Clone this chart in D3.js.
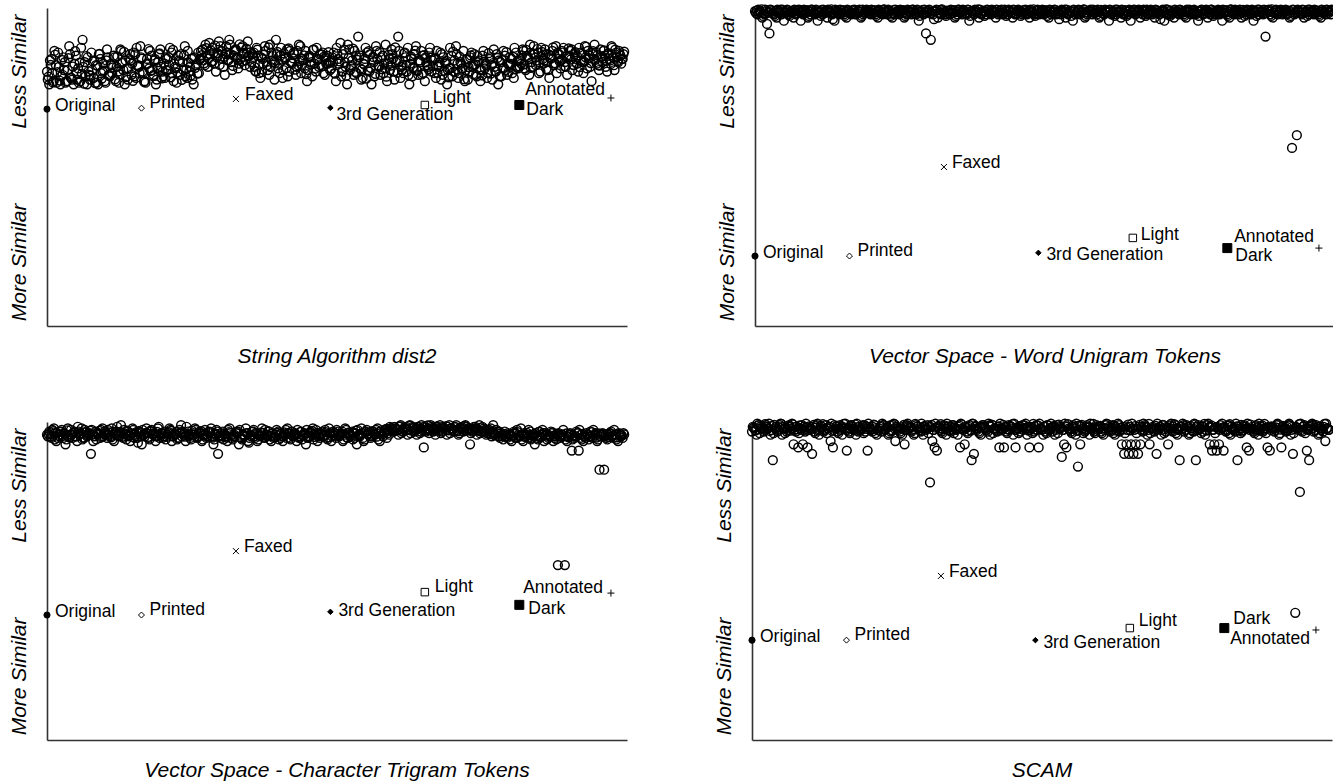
<!DOCTYPE html>
<html>
<head>
<meta charset="utf-8">
<script src="https://cdn.jsdelivr.net/npm/d3@7"></script>
<style>
body { margin: 0; background: #fff; }
text { font-family: Arial, "Liberation Sans", sans-serif; fill: #000; }
</style>
</head>
<body>
<script>
// Document variants and where they sit along the x axis
var variants = ["Original", "Printed", "Faxed", "3rd Generation", "Light", "Dark", "Annotated"];
var variant_x = [0, 100, 200, 300, 400, 500, 597];

var titles = ["String Algorithm dist2", "Vector Space - Word Unigram Tokens",
              "Vector Space - Character Trigram Tokens", "SCAM"];

// Dissimilarity of each variant to the original (0 = more similar, 100 = less similar)
var dist2_variants   = [68.2, 68.5, 71.4, 68.6, 69.5, 69.5, 71.7];
var unigram_variants = [22.0, 22.0, 50.0, 23.0, 27.7, 24.5, 24.5];
var trigram_variants = [39.3, 39.3, 59.4, 40.3, 46.5, 42.5, 46.2];
var scam_variants    = [31.4, 31.4, 51.6, 31.4, 35.2, 35.2, 34.6];

// Dissimilarity of the original to the other documents (three runs, interleaved)
var dist2_docs_a = [
    80,76,84,77,82,86,76,79,83,77,88,78,76,85,81,77,90,83,76,79,86,78,82,76,84,80,77,87,79,
    82,85,77,80,87,83,76,81,84,79,86,78,82,88,80,77,84,81,85,79,76,83,87,80,78,84,82,86,77,81,85,79,83,88,78,80,84,76,82,86,
    84,87,82,85,89,83,86,80,85,88,84,79,86,90,83,85,87,81,84,88,82,86,85,
    83,86,80,85,78,84,88,82,79,86,83,90,81,85,78,84,87,80,83,86,79,82,88,84,81,77,85,83,87,80,84,82,86,79,85,83,
    81,86,77,84,89,80,83,76,87,82,79,85,91,81,78,84,86,80,76,83,88,82,79,85,81,77,84,87,80,83,91,78,82,86,80,76,84,81,88,79,83,85,77,82,86,
    80,84,78,82,86,79,83,76,81,85,80,88,78,83,81,77,84,80,86,82,79,83,77,85,81,78,84,82,87,80,76,83,81,85,79,82,84,78,86,81,
    84,87,81,85,79,83,88,82,86,80,84,87,83,78,85,82,88,84,81,86,83,79,85,87,82,84,80,86,83,88,81,85,77,84,86,82,87,83,85,80,84,88,82,86,83,85,84
];
var dist2_docs_b = [
    77.5,83.5,79.5,86.5,76.5,81.5,78.5,84.5,76.5,80.5,85.5,77.5,82.5,79.5,76.5,87.5,81.5,78.5,84.5,77.5,80.5,83.5,76.5,85.5,79.5,82.5,76.5,84.5,78.5,
    79.5,84.5,81.5,76.5,86.5,80.5,83.5,77.5,85.5,82.5,78.5,87.5,81.5,84.5,79.5,76.5,82.5,86.5,80.5,83.5,77.5,85.5,81.5,78.5,84.5,80.5,87.5,79.5,82.5,76.5,83.5,85.5,80.5,78.5,86.5,81.5,77.5,84.5,82.5,79.5,
    86.5,83.5,88.5,81.5,85.5,87.5,82.5,84.5,89.5,86.5,81.5,85.5,83.5,88.5,80.5,86.5,84.5,82.5,87.5,85.5,83.5,89.5,81.5,
    85.5,81.5,87.5,79.5,84.5,82.5,86.5,80.5,88.5,83.5,77.5,85.5,82.5,87.5,80.5,84.5,78.5,86.5,82.5,85.5,81.5,88.5,79.5,83.5,86.5,80.5,84.5,78.5,82.5,87.5,81.5,85.5,79.5,84.5,82.5,80.5,
    84.5,79.5,87.5,82.5,78.5,85.5,81.5,88.5,80.5,83.5,86.5,79.5,84.5,77.5,82.5,87.5,80.5,85.5,83.5,78.5,86.5,81.5,84.5,79.5,88.5,82.5,80.5,85.5,77.5,83.5,86.5,81.5,79.5,84.5,87.5,82.5,78.5,85.5,80.5,83.5,86.5,79.5,84.5,81.5,87.5,
    83.5,79.5,86.5,81.5,77.5,84.5,82.5,80.5,87.5,78.5,83.5,85.5,79.5,82.5,86.5,80.5,77.5,84.5,81.5,85.5,78.5,83.5,80.5,86.5,82.5,79.5,84.5,77.5,81.5,85.5,83.5,78.5,86.5,80.5,82.5,84.5,79.5,87.5,81.5,83.5,
    82.5,86.5,80.5,84.5,88.5,81.5,85.5,83.5,79.5,87.5,82.5,85.5,80.5,84.5,86.5,82.5,79.5,85.5,83.5,87.5,81.5,84.5,86.5,80.5,85.5,82.5,87.5,83.5,79.5,84.5,86.5,81.5,85.5,88.5,82.5,80.5,84.5,86.5,81.5,85.5,83.5,87.5,80.5,84.5,86.5,82.5,85.5
];
var dist2_docs_c = [
    78.4,82.1,76.6,85.3,79.8,77.2,83.7,80.5,76.9,84.2,78.1,81.6,86.4,77.5,82.8,79.3,76.2,84.9,80.1,78.7,83.2,76.4,81.9,85.6,77.8,80.3,83.5,78.9,82.4,
    81.3,77.6,84.8,79.1,82.7,86.2,78.3,80.9,83.6,77.1,85.4,81.8,79.5,84.1,76.8,82.3,87.1,80.2,78.6,83.9,81.1,85.7,77.9,82.6,80.4,84.5,78.2,86.8,81.5,79.7,83.1,77.4,85.1,80.7,82.9,78.8,84.3,81.2,79.4,83.8,
    85.2,82.6,87.4,84.1,86.7,83.3,88.2,85.8,82.1,86.4,84.7,87.9,83.6,85.5,81.8,86.9,84.3,88.6,83.1,85.9,87.2,84.8,86.1,
    84.6,80.2,86.9,82.4,79.8,85.3,83.1,87.6,81.4,84.9,82.7,86.2,79.5,83.8,85.7,81.1,87.3,82.9,84.2,80.6,86.5,83.4,81.9,85.1,79.2,84.4,82.2,86.8,80.9,83.6,85.4,81.7,84.7,82.5,86.1,83.0,
    82.8,79.4,85.6,83.2,80.1,86.9,78.7,84.3,81.5,87.2,79.9,83.7,85.1,80.6,82.3,77.8,86.4,81.2,84.6,79.3,83.9,86.1,80.8,82.6,78.4,85.3,81.9,84.1,87.6,79.6,83.3,80.4,85.8,82.1,78.9,84.8,81.4,86.6,80.2,83.5,79.1,85.2,82.9,80.7,84.4,
    81.7,84.2,79.6,82.9,85.5,80.3,83.4,78.2,81.1,86.3,79.8,82.5,84.7,80.9,77.6,83.8,81.4,85.1,79.2,82.2,84.9,80.6,78.8,83.1,81.9,85.8,79.4,82.7,80.1,84.3,78.5,83.6,81.2,86.1,79.9,82.4,84.6,80.8,83.3,81.6,
    85.1,82.3,86.8,83.9,81.2,85.7,84.4,87.1,82.9,86.2,83.5,80.8,85.4,84.1,87.6,82.6,85.9,83.2,86.5,81.7,84.8,87.3,83.8,82.1,86.1,84.6,81.4,85.6,83.1,87.8,84.2,82.7,86.4,83.7,85.2,81.9,84.9,86.7,83.4,85.8,82.4,84.5,86.9,83.3,85.5,84.0,86.3
];

var unigram_docs_a = [
    99,98,99,97,98,95,92,99,98,97,99,98,96,99,98,99,97,98,99,96,
    98,99,97,98,99,98,96,99,98,99,97,99,98,96,99,98,99,98,97,99,
    98,99,98,99,97,98,99,99,98,99,98,97,99,98,99,98,99,97,98,99,
    98,99,97,98,99,98,99,98,96,99,98,92,99,90,98,99,97,98,99,98,
    99,98,99,97,98,99,98,99,98,96,99,98,99,97,98,99,98,99,98,99,
    97,98,99,98,99,98,99,97,98,99,99,98,99,98,97,99,98,99,98,99,
    98,99,97,98,99,98,99,98,99,97,98,99,96,98,99,98,99,97,98,99,
    98,99,98,97,99,98,99,96,98,99,98,99,97,98,99,98,96,99,98,99,
    97,98,99,98,99,98,97,99,98,99,96,98,99,98,97,99,98,99,98,97,
    99,98,99,98,96,99,98,99,97,98,99,98,99,98,96,99,98,97,99,98,
    99,98,97,99,98,99,98,96,99,98,99,98,91,99,98,97,99,98,99,98,
    99,98,97,56,98,60,99,98,97,99,98,99,98,99,98,97,99,98,99,98
];
var unigram_docs_b = [
    98.5,99.5,98.5,97.5,99.5,98.5,99.5,98.5,97.5,99.5,98.5,99.5,98.5,99.5,97.5,98.5,99.5,98.5,99.5,98.5,
    99.5,98.5,97.5,99.5,98.5,99.5,98.5,97.5,99.5,98.5,99.5,98.5,96.5,99.5,98.5,99.5,98.5,97.5,99.5,98.5,
    98.5,99.5,98.5,99.5,97.5,98.5,99.5,98.5,99.5,98.5,97.5,99.5,98.5,99.5,98.5,99.5,97.5,98.5,99.5,98.5,
    99.5,98.5,97.5,99.5,98.5,99.5,98.5,99.5,97.5,98.5,99.5,98.5,99.5,98.5,96.5,99.5,98.5,99.5,98.5,97.5,
    98.5,99.5,98.5,97.5,99.5,98.5,99.5,98.5,99.5,97.5,98.5,99.5,98.5,99.5,98.5,97.5,99.5,98.5,99.5,98.5,
    99.5,98.5,99.5,98.5,97.5,99.5,98.5,99.5,98.5,99.5,97.5,98.5,99.5,98.5,99.5,98.5,97.5,99.5,98.5,99.5,
    98.5,97.5,99.5,98.5,99.5,98.5,96.5,99.5,98.5,99.5,98.5,97.5,99.5,98.5,99.5,98.5,99.5,97.5,98.5,99.5,
    99.5,98.5,99.5,97.5,98.5,99.5,98.5,99.5,98.5,97.5,99.5,98.5,99.5,98.5,97.5,99.5,98.5,99.5,98.5,99.5,
    98.5,99.5,97.5,98.5,99.5,98.5,99.5,98.5,96.5,99.5,98.5,99.5,97.5,98.5,99.5,98.5,99.5,98.5,97.5,99.5,
    99.5,98.5,99.5,98.5,97.5,99.5,98.5,99.5,98.5,99.5,97.5,98.5,99.5,98.5,99.5,98.5,97.5,99.5,98.5,99.5,
    98.5,99.5,98.5,97.5,99.5,98.5,99.5,98.5,97.5,99.5,98.5,99.5,98.5,99.5,97.5,98.5,99.5,98.5,99.5,98.5,
    99.5,98.5,97.5,99.5,98.5,99.5,98.5,99.5,98.5,97.5,99.5,98.5,99.5,98.5,97.5,99.5,98.5,99.5,98.5,99.5
];
var unigram_docs_c = [
    99.2,98.7,99.6,98.3,99.0,98.8,99.4,98.1,99.1,98.6,99.5,98.9,98.4,99.3,98.7,99.0,98.2,99.4,98.8,99.1,
    98.6,99.3,98.9,99.5,98.2,99.0,98.7,99.4,98.5,99.1,98.8,99.6,98.3,99.2,98.9,98.4,99.3,98.7,99.0,98.5,
    99.4,98.1,99.0,98.8,99.5,98.6,99.2,98.9,98.3,99.3,98.7,99.1,98.4,99.6,98.8,99.0,98.2,99.4,98.6,99.1,
    98.9,99.3,98.5,99.0,98.7,99.5,98.2,99.2,98.8,99.4,98.6,99.1,98.3,99.0,98.9,99.3,98.5,99.6,98.7,99.2,
    99.0,98.4,99.3,98.8,99.5,98.6,99.1,98.2,99.4,98.9,99.0,98.7,99.6,98.3,99.2,98.8,99.4,98.5,99.1,98.9,
    98.7,99.2,98.4,99.5,98.9,99.0,98.6,99.3,98.1,99.1,98.8,99.4,98.5,99.0,98.7,99.6,98.3,99.2,98.9,99.1,
    99.3,98.6,99.0,98.8,99.4,98.2,99.1,98.9,99.5,98.5,99.2,98.7,99.0,98.4,99.3,98.8,99.6,98.6,99.1,98.9,
    98.5,99.1,98.8,99.4,98.3,99.0,98.9,99.2,98.6,99.5,98.7,99.0,98.2,99.3,98.8,99.1,98.5,99.4,98.9,99.0,
    99.2,98.7,99.5,98.4,99.0,98.8,99.3,98.6,99.1,98.9,99.6,98.3,99.2,98.7,99.0,98.5,99.4,98.8,99.1,98.6,
    98.8,99.3,98.5,99.0,98.9,99.4,98.2,99.1,98.7,99.5,98.6,99.2,98.9,99.0,98.4,99.3,98.8,99.6,98.5,99.1,
    99.0,98.6,99.4,98.8,99.2,98.3,99.1,98.9,99.5,98.7,99.0,98.4,99.3,98.8,99.6,98.5,99.2,98.9,99.0,98.7,
    98.9,99.2,98.6,99.4,98.8,99.0,98.5,99.3,98.7,99.5,98.9,99.1,98.4,99.2,98.8,99.0,98.6,99.4,98.9,99.1
];

var trigram_docs_a = [
    96,97,95,98,94,96,97,95,93,98,96,95,97,94,96,98,95,97,96,90,94,97,96,95,98,
    97,95,96,98,94,97,96,99,95,96,97,94,98,96,95,97,93,96,98,95,97,96,94,98,96,
    95,97,96,98,94,96,97,95,99,96,94,97,95,96,98,95,97,94,96,95,97,98,93,96,90,
    95,97,96,94,98,95,96,97,93,95,96,98,94,96,97,95,94,96,98,95,96,97,94,95,96,
    97,95,94,96,98,95,97,96,94,95,97,96,93,95,97,98,96,94,95,97,96,95,98,94,96,
    95,97,96,94,98,95,96,97,95,93,96,98,94,97,96,95,97,96,98,94,96,97,95,96,98,
    97,98,96,99,97,98,96,99,98,97,96,98,99,92,97,98,99,97,96,98,99,97,98,96,99,
    98,97,99,96,98,97,99,98,93,97,98,96,99,97,98,96,97,98,99,96,97,95,96,97,95,
    96,94,97,95,96,98,94,96,95,97,96,93,95,97,96,94,96,95,97,94,96,55,95,96,55,
    94,96,91,95,97,91,96,94,95,96,97,95,96,94,85,96,85,95,96,97,95,96,94,96,95
];
var trigram_docs_b = [
    95.5,96.5,97.5,94.5,96.5,95.5,97.5,96.5,94.5,95.5,97.5,96.5,95.5,98.5,96.5,94.5,97.5,95.5,96.5,97.5,95.5,94.5,96.5,97.5,95.5,
    96.5,97.5,95.5,94.5,96.5,98.5,95.5,96.5,97.5,94.5,95.5,96.5,97.5,95.5,93.5,96.5,97.5,95.5,96.5,94.5,97.5,96.5,95.5,98.5,96.5,
    95.5,94.5,96.5,97.5,95.5,96.5,94.5,97.5,95.5,96.5,98.5,95.5,94.5,96.5,97.5,95.5,96.5,94.5,97.5,95.5,96.5,95.5,94.5,97.5,95.5,
    96.5,94.5,95.5,97.5,96.5,94.5,95.5,96.5,97.5,94.5,95.5,96.5,93.5,95.5,97.5,96.5,94.5,95.5,96.5,97.5,95.5,94.5,96.5,95.5,97.5,
    94.5,96.5,95.5,97.5,96.5,94.5,95.5,96.5,97.5,95.5,94.5,96.5,97.5,95.5,96.5,94.5,97.5,95.5,96.5,95.5,97.5,94.5,96.5,95.5,96.5,
    97.5,95.5,96.5,94.5,97.5,96.5,95.5,94.5,96.5,97.5,95.5,96.5,94.5,97.5,96.5,95.5,96.5,97.5,94.5,96.5,95.5,97.5,96.5,98.5,97.5,
    98.5,97.5,98.5,96.5,97.5,98.5,97.5,96.5,98.5,97.5,98.5,96.5,97.5,98.5,97.5,96.5,98.5,97.5,98.5,97.5,96.5,98.5,97.5,98.5,96.5,
    97.5,98.5,97.5,96.5,98.5,97.5,98.5,97.5,96.5,97.5,98.5,97.5,96.5,98.5,97.5,96.5,97.5,95.5,96.5,97.5,95.5,96.5,94.5,95.5,96.5,
    94.5,95.5,96.5,97.5,95.5,94.5,96.5,95.5,97.5,94.5,95.5,96.5,94.5,95.5,97.5,96.5,94.5,95.5,96.5,95.5,94.5,96.5,95.5,97.5,94.5,
    95.5,96.5,94.5,95.5,96.5,97.5,94.5,95.5,96.5,94.5,95.5,97.5,96.5,94.5,95.5,96.5,95.5,94.5,96.5,95.5,97.5,94.5,96.5,95.5,96.5
];
var trigram_docs_c = [
    96.2,95.4,97.1,96.6,95.0,96.9,95.7,96.3,97.4,95.2,96.0,96.8,95.5,97.0,96.4,95.1,96.7,95.8,97.3,96.1,95.6,96.5,97.2,95.3,96.3,
    95.9,96.7,95.2,97.0,96.1,95.6,96.9,95.4,96.4,97.3,95.8,96.2,95.1,96.8,97.1,95.5,96.0,96.6,95.3,97.2,96.3,95.7,96.9,95.0,96.5,
    96.4,95.3,96.8,97.2,95.6,96.1,95.0,96.7,97.0,95.4,96.3,95.9,97.3,96.0,95.2,96.6,97.1,95.7,96.2,95.5,96.9,95.1,96.4,97.0,95.8,
    95.6,96.3,95.1,96.8,95.9,95.4,96.6,97.0,95.2,96.1,95.7,96.5,95.0,96.9,95.5,96.2,95.8,96.7,95.3,96.0,97.1,95.6,96.4,95.2,96.6,
    96.1,95.5,96.7,95.0,96.3,97.0,95.8,96.0,95.4,96.9,95.7,96.2,95.1,96.6,97.2,95.3,96.5,95.9,96.1,95.6,96.8,95.2,96.4,97.0,95.7,
    96.3,95.6,97.0,96.0,95.2,96.7,95.8,96.4,97.3,95.5,96.1,95.0,96.8,96.3,95.7,97.1,96.2,95.4,96.9,97.4,96.6,97.8,97.2,98.1,97.5,
    98.0,97.4,98.6,97.1,98.3,97.7,98.8,97.3,98.2,97.9,98.5,97.0,98.4,97.6,98.9,97.5,98.1,97.8,98.6,97.2,98.3,97.9,98.7,97.4,98.0,
    97.6,98.4,97.1,98.2,97.8,98.7,97.3,98.0,97.5,98.5,97.9,97.2,98.1,97.0,96.7,97.4,96.2,96.9,95.8,96.5,97.0,95.6,96.3,95.4,96.1,
    95.7,96.4,95.1,96.8,95.5,96.0,95.3,96.6,95.9,95.0,96.2,95.6,96.9,95.2,96.5,95.8,96.1,95.4,96.7,95.0,96.3,95.7,96.0,95.5,96.4,
    95.2,96.1,95.8,95.4,96.6,95.0,96.3,95.6,96.0,95.3,96.8,95.7,95.1,96.4,95.5,96.2,95.9,95.3,96.5,95.6,96.0,95.2,96.3,95.8,96.1
];

var scam_docs_a = [
    97,98,96,99,98,97,99,98,96,88,98,97,99,96,98,97,99,98,93,97,92,98,93,97,92,
    98,90,97,99,96,98,97,99,98,94,92,98,97,99,96,98,91,97,99,98,96,97,98,99,97,
    91,98,97,99,96,98,97,99,98,96,97,99,94,98,97,96,93,99,98,97,96,99,98,97,96,
    98,99,81,94,92,91,98,97,99,96,98,97,99,98,96,92,98,93,97,99,88,90,98,97,96,
    99,98,97,96,99,98,97,92,98,92,97,99,98,96,92,98,97,99,98,96,92,98,97,99,92,
    98,96,97,99,98,97,96,99,98,89,93,92,98,97,99,96,86,93,98,97,99,96,98,97,99,
    98,97,96,99,98,97,99,96,98,97,93,90,93,90,93,90,93,90,93,97,99,96,93,98,97,
    90,98,96,99,97,93,98,97,99,96,88,98,97,99,96,98,97,88,99,98,97,96,99,93,91,
    93,91,93,98,91,97,99,96,98,97,88,98,97,99,92,91,98,97,99,96,98,97,98,92,91,
    98,97,99,96,92,98,97,99,96,90,40,98,78,97,99,91,88,98,97,99,96,98,97,94,98
];
var scam_docs_b = [
    98.5,97.5,99.5,96.5,98.5,97.5,98.5,99.5,97.5,96.5,98.5,97.5,99.5,98.5,96.5,97.5,98.5,99.5,97.5,98.5,96.5,97.5,98.5,99.5,97.5,
    97.5,98.5,96.5,99.5,97.5,98.5,97.5,96.5,98.5,99.5,97.5,98.5,96.5,97.5,98.5,99.5,97.5,96.5,98.5,97.5,99.5,98.5,97.5,96.5,98.5,
    99.5,97.5,98.5,96.5,97.5,98.5,99.5,97.5,98.5,96.5,97.5,99.5,98.5,97.5,96.5,98.5,97.5,99.5,98.5,97.5,96.5,98.5,97.5,99.5,98.5,
    97.5,96.5,98.5,97.5,99.5,98.5,97.5,96.5,98.5,99.5,97.5,98.5,96.5,97.5,98.5,99.5,97.5,98.5,96.5,97.5,99.5,98.5,97.5,96.5,98.5,
    98.5,97.5,99.5,98.5,96.5,97.5,98.5,99.5,97.5,98.5,96.5,97.5,98.5,99.5,97.5,96.5,98.5,97.5,99.5,98.5,97.5,96.5,98.5,97.5,99.5,
    97.5,98.5,96.5,97.5,99.5,98.5,97.5,96.5,98.5,97.5,99.5,98.5,97.5,96.5,98.5,99.5,97.5,98.5,96.5,97.5,98.5,99.5,97.5,96.5,98.5,
    98.5,96.5,97.5,99.5,98.5,97.5,96.5,98.5,99.5,97.5,98.5,96.5,97.5,98.5,99.5,97.5,96.5,98.5,97.5,99.5,98.5,97.5,96.5,98.5,97.5,
    99.5,98.5,97.5,96.5,98.5,97.5,99.5,98.5,96.5,97.5,98.5,99.5,97.5,98.5,96.5,97.5,99.5,98.5,97.5,96.5,98.5,97.5,99.5,98.5,97.5,
    96.5,98.5,97.5,99.5,98.5,97.5,96.5,98.5,97.5,99.5,98.5,96.5,97.5,98.5,99.5,97.5,98.5,96.5,97.5,99.5,98.5,97.5,96.5,98.5,97.5,
    98.5,97.5,99.5,96.5,98.5,97.5,98.5,99.5,97.5,96.5,98.5,97.5,99.5,98.5,96.5,97.5,98.5,99.5,97.5,98.5,96.5,97.5,98.5,99.5,97.5
];
var scam_docs_c = [
    98.2,97.4,99.0,98.6,97.8,99.3,98.0,97.2,98.8,99.1,97.6,98.4,99.4,97.9,98.1,98.7,97.3,99.2,98.5,97.7,98.9,99.0,97.5,98.3,98.6,
    97.8,99.1,98.2,97.4,98.8,99.3,97.6,98.0,98.5,97.2,99.0,98.7,97.9,98.3,99.4,97.5,98.1,98.9,97.7,99.2,98.4,97.3,98.6,99.0,97.8,
    98.5,97.7,99.2,98.1,97.4,98.8,99.0,97.6,98.3,98.9,97.2,99.3,98.4,97.9,98.0,99.1,97.5,98.7,98.2,97.8,99.4,98.6,97.3,98.1,98.8,
    97.9,98.4,99.1,97.5,98.2,98.7,99.3,97.7,98.0,98.6,97.4,99.0,98.3,97.8,98.9,99.2,97.6,98.1,98.5,97.3,99.4,98.8,97.9,98.2,99.0,
    98.3,97.6,98.9,99.2,97.8,98.0,98.6,97.4,99.1,98.4,97.7,98.8,99.3,97.5,98.2,98.7,97.9,99.0,98.1,97.3,98.5,99.4,97.6,98.9,98.0,
    97.7,98.6,99.0,97.4,98.3,98.8,97.9,99.2,98.1,97.5,98.7,99.3,97.8,98.4,98.0,97.2,98.9,99.1,97.6,98.5,98.2,97.8,99.4,98.3,97.5,
    98.8,97.9,98.1,99.3,97.6,98.4,98.9,97.3,99.0,98.2,97.7,98.6,99.2,97.4,98.0,98.7,97.8,99.1,98.5,97.5,98.3,99.4,97.9,98.1,98.8,
    97.6,98.5,99.1,97.8,98.2,98.9,97.4,99.3,98.0,97.7,98.6,99.0,97.5,98.4,98.8,97.2,99.2,98.1,97.9,98.7,99.4,97.3,98.3,98.9,97.6,
    98.4,97.8,99.0,98.2,97.5,98.8,99.3,97.7,98.1,98.6,97.4,99.1,98.5,97.9,98.0,99.2,97.6,98.7,98.3,97.3,98.9,99.4,97.8,98.2,98.6,
    97.9,98.3,99.2,97.6,98.8,98.1,97.4,99.0,98.5,97.8,98.2,99.3,97.5,98.7,98.0,97.7,98.9,99.1,97.3,98.4,98.6,97.9,99.4,98.1,97.6
];

// Merge the runs document by document
function interleave() {
    var runs = Array.prototype.slice.call(arguments),
        n = d3.max(runs, function(r) { return r.length; }),
        out = [];
    for (var i = 0; i < n; i++) {
        runs.forEach(function(r) { if (i < r.length) out.push(r[i]); });
    }
    return out;
}
var panel_docs = [interleave(dist2_docs_a, dist2_docs_b, dist2_docs_c),
                  interleave(unigram_docs_a, unigram_docs_b, unigram_docs_c),
                  interleave(trigram_docs_a, trigram_docs_b, trigram_docs_c),
                  interleave(scam_docs_a, scam_docs_b, scam_docs_c)];
var panel_variants = [dist2_variants, unigram_variants, trigram_variants, scam_variants];

// Panel frames and label placement (dx, dy to baseline, anchor)
var panels = [
    {left: 47,  bottom: 326},
    {left: 755, bottom: 326},
    {left: 47,  bottom: 740},
    {left: 752, bottom: 740}
];
var plot_w = 580, plot_h = 318;
var label_offsets = [
    [[8,2],[8,0],[9,1],[6,12],[8,-2],[7,10],[-6,-3,"end"]],
    [[8,2],[8,0],[8,1],[8,7],[8,2],[8,13],[-5,-6,"end"]],
    [[8,2],[8,0],[8,1],[8,4],[10,0],[9,9],[-8,0,"end"]],
    [[8,2],[8,0],[8,1],[8,8],[9,-2],[9,-4],[-6,14,"end"]]
];

// Marker shapes for the variants
var sym_diamond = {draw: function(c, s) { var r = Math.sqrt(s) / 2;
    c.moveTo(0, -r); c.lineTo(r, 0); c.lineTo(0, r); c.lineTo(-r, 0); c.closePath(); }};
var sym_times = {draw: function(c, s) { var r = Math.sqrt(s) / 2;
    c.moveTo(-r, -r); c.lineTo(r, r); c.moveTo(-r, r); c.lineTo(r, -r); }};
var sym_plus = {draw: function(c, s) { var r = Math.sqrt(s) / 2;
    c.moveTo(-r, 0); c.lineTo(r, 0); c.moveTo(0, -r); c.lineTo(0, r); }};
var variant_style = [
    {type: d3.symbolCircle, size: 30, fill: "#000"},
    {type: sym_diamond, size: 36, fill: "none"},
    {type: sym_times, size: 36, fill: "none"},
    {type: sym_diamond, size: 30, fill: "#000"},
    {type: d3.symbolSquare, size: 56, fill: "none"},
    {type: d3.symbolSquare, size: 81, fill: "#000"},
    {type: sym_plus, size: 49, fill: "none"}
];

var svg = d3.select("body").append("svg")
        .attr("width", 1333)
        .attr("height", 784);

panels.forEach(function(p, k) {
    var x = d3.scaleLinear().domain([0, 614]).range([p.left, p.left + plot_w]);
    var y = d3.scaleLinear().domain([0, 100]).range([p.bottom, p.bottom - plot_h]);
    var docs = panel_docs[k];
    var x_doc = d3.scaleLinear().domain([0, docs.length - 1]).range([x(0), x(611)]);
    var g = svg.append("g").attr("class", "panel");

    // Axes: bare lines, no ticks
    g.append("g")
        .attr("transform", "translate(" + p.left + ",0)")
        .call(d3.axisLeft(y).tickValues([]).tickSizeOuter(0));
    g.append("g")
        .attr("transform", "translate(0," + p.bottom + ")")
        .call(d3.axisBottom(x).tickValues([]).tickSizeOuter(0));
    g.selectAll(".domain").attr("stroke", "#333").attr("stroke-width", 1.6);

    // Other documents
    g.append("g").selectAll("circle")
        .data(docs).enter()
      .append("circle")
        .attr("cx", function(d, i) { return x_doc(i); })
        .attr("cy", function(d) { return y(d); })
        .attr("r", 4.4)
        .attr("fill", "none")
        .attr("stroke", "#000")
        .attr("stroke-width", 1.45);

    // Variants of the original
    var vg = g.append("g").selectAll("g")
        .data(panel_variants[k]).enter()
      .append("g")
        .attr("transform", function(d, i) { return "translate(" + x(variant_x[i]) + "," + y(d) + ")"; });
    vg.append("path")
        .attr("d", function(d, i) { return d3.symbol().type(variant_style[i].type).size(variant_style[i].size)(); })
        .attr("fill", function(d, i) { return variant_style[i].fill; })
        .attr("stroke", "#000")
        .attr("stroke-width", 1);
    vg.append("text")
        .attr("x", function(d, i) { return label_offsets[k][i][0]; })
        .attr("y", function(d, i) { return label_offsets[k][i][1]; })
        .attr("text-anchor", function(d, i) { return label_offsets[k][i][2] || "start"; })
        .style("font-size", "17.5px")
        .text(function(d, i) { return variants[i]; });

    // Axis labels and title
    [["Less Similar", 0.8], ["More Similar", 0.2]].forEach(function(l) {
        g.append("text")
            .attr("transform", "translate(" + (p.left - 21) + "," + y(l[1] * 100) + ") rotate(-90)")
            .attr("text-anchor", "middle")
            .style("font-size", "21px")
            .style("font-style", "italic")
            .text(l[0]);
    });
    g.append("text")
        .attr("x", p.left + plot_w / 2)
        .attr("y", p.bottom + 37)
        .attr("text-anchor", "middle")
        .style("font-size", "21px")
        .style("font-style", "italic")
        .text(titles[k]);
});
</script>
</body>
</html>
